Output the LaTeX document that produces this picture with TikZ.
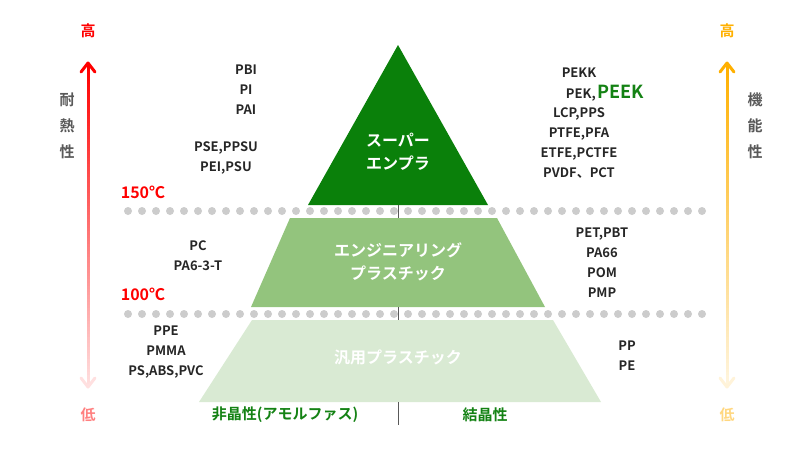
\documentclass[tikz,border=0pt]{standalone}
\usepackage{fontspec}
\setmainfont{Noto Sans CJK JP}[BoldFont={Noto Sans CJK JP Bold}]
\begin{document}
\begin{tikzpicture}[x=1pt,y=-1pt,
  lbl/.style={font=\bfseries\fontsize{13}{20}\selectfont, align=center, text=black!85},
  tmp/.style={font=\bfseries\fontsize{16}{18}\selectfont, text=red},
  wt/.style={font=\bfseries\fontsize{16}{23}\selectfont, text=white, align=center},
  ax/.style={font=\bfseries\fontsize{15}{17}\selectfont},
  dots/.style={gray!40, line width=8pt, line cap=round, dash pattern=on 0pt off 14pt}]
\definecolor{g1}{RGB}{10,128,10}
\definecolor{g2}{RGB}{147,196,125}
\definecolor{g3}{RGB}{217,234,211}
\definecolor{dg}{RGB}{20,130,20}
\definecolor{am}{RGB}{255,176,0}
\useasboundingbox (0,0) rectangle (800,450);
\fill[g3] (252,320) -- (553,320) -- (601,402) -- (199,402) -- cycle;
\fill[g2] (290,218) -- (497,218) -- (545,307) -- (251,307) -- cycle;
\fill[g1] (398,45) -- (488,205) -- (308,205) -- cycle;
\draw[dots] (128,211) -- (712,211);
\draw[dots] (128,314) -- (712,314);
\draw[gray!70!black, line width=0.6pt] (398,205) -- (398,218) (398,307) -- (398,320) (398,402) -- (398,425);
\node[wt] (sp) at (398,152) {スーパー\\エンプラ};
\node[wt] (ep) at (398,262) {エンジニアリング\\プラスチック};
\node[wt] (gp) at (398,357) {汎用プラスチック};
\foreach \i in {0,...,99}{
  \pgfmathsetmacro\a{65+\i*3.2}\pgfmathsetmacro\b{65+(\i+1)*3.2+0.3}\pgfmathsetmacro\c{100-\i*0.88}
  \draw[red!\c!white, line width=3pt] (88,\a) -- (88,\b);
  \draw[am!\c!white, line width=3pt] (727,\a) -- (727,\b);}
\draw[red, line width=3pt, line cap=round, line join=round] (81,72) -- (88,63) -- (95,72);
\draw[red!12!white, line width=3pt, line cap=round, line join=round] (81,378) -- (88,387) -- (95,378);
\draw[am, line width=3pt, line cap=round, line join=round] (720,72) -- (727,63) -- (734,72);
\draw[am!15!white, line width=3pt, line cap=round, line join=round] (720,378) -- (727,387) -- (734,378);
\node[ax, text=red] (h1) at (88,31) {高};
\node[ax, text=red!50!white] (l1) at (88,415) {低};
\node[ax, text=am] (h2) at (727,31) {高};
\node[ax, text=am!50!white] (l2) at (727,415) {低};
\node[ax, text=black!65, align=center, font=\bfseries\fontsize{15}{26}\selectfont] (t1) at (67,126) {耐\\熱\\性};
\node[ax, text=black!65, align=center, font=\bfseries\fontsize{15}{26}\selectfont] (t2) at (755,126) {機\\能\\性};
\node[tmp] (c150) at (143,192) {150℃};
\node[tmp] (c100) at (143,294) {100℃};
\node[lbl] (a1) at (246,90) {PBI\\PI\\PAI};
\node[lbl] (a2) at (226,158) {PSE,PPSU\\PEI,PSU};
\node[lbl] (a3) at (198,256) {PC\\PA6-3-T};
\node[lbl] (a4) at (166,352) {PPE\\PMMA\\PS,ABS,PVC};
\node[lbl] (b0) at (579,73) {PEKK};
\node[lbl, anchor=base east, inner xsep=0pt] (b1) at (596,98) {PEK,};
\node[lbl, anchor=base west, text=dg, font=\bfseries\fontsize{18}{18}\selectfont, inner sep=1pt] (b1b) at (b1.base east) {PEEK};
\node[lbl] (b2) at (579,143) {LCP,PPS\\PTFE,PFA\\ETFE,PCTFE\\PVDF、PCT};
\node[lbl] (b3) at (602,263) {PET,PBT\\PA66\\POM\\PMP};
\node[lbl] (b4) at (627,356) {PP\\PE};
\node[ax, text=dg] (am) at (285,415) {非晶性(アモルファス)};
\node[ax, text=dg] (cr) at (485,415) {結晶性};
\end{tikzpicture}
\end{document}
